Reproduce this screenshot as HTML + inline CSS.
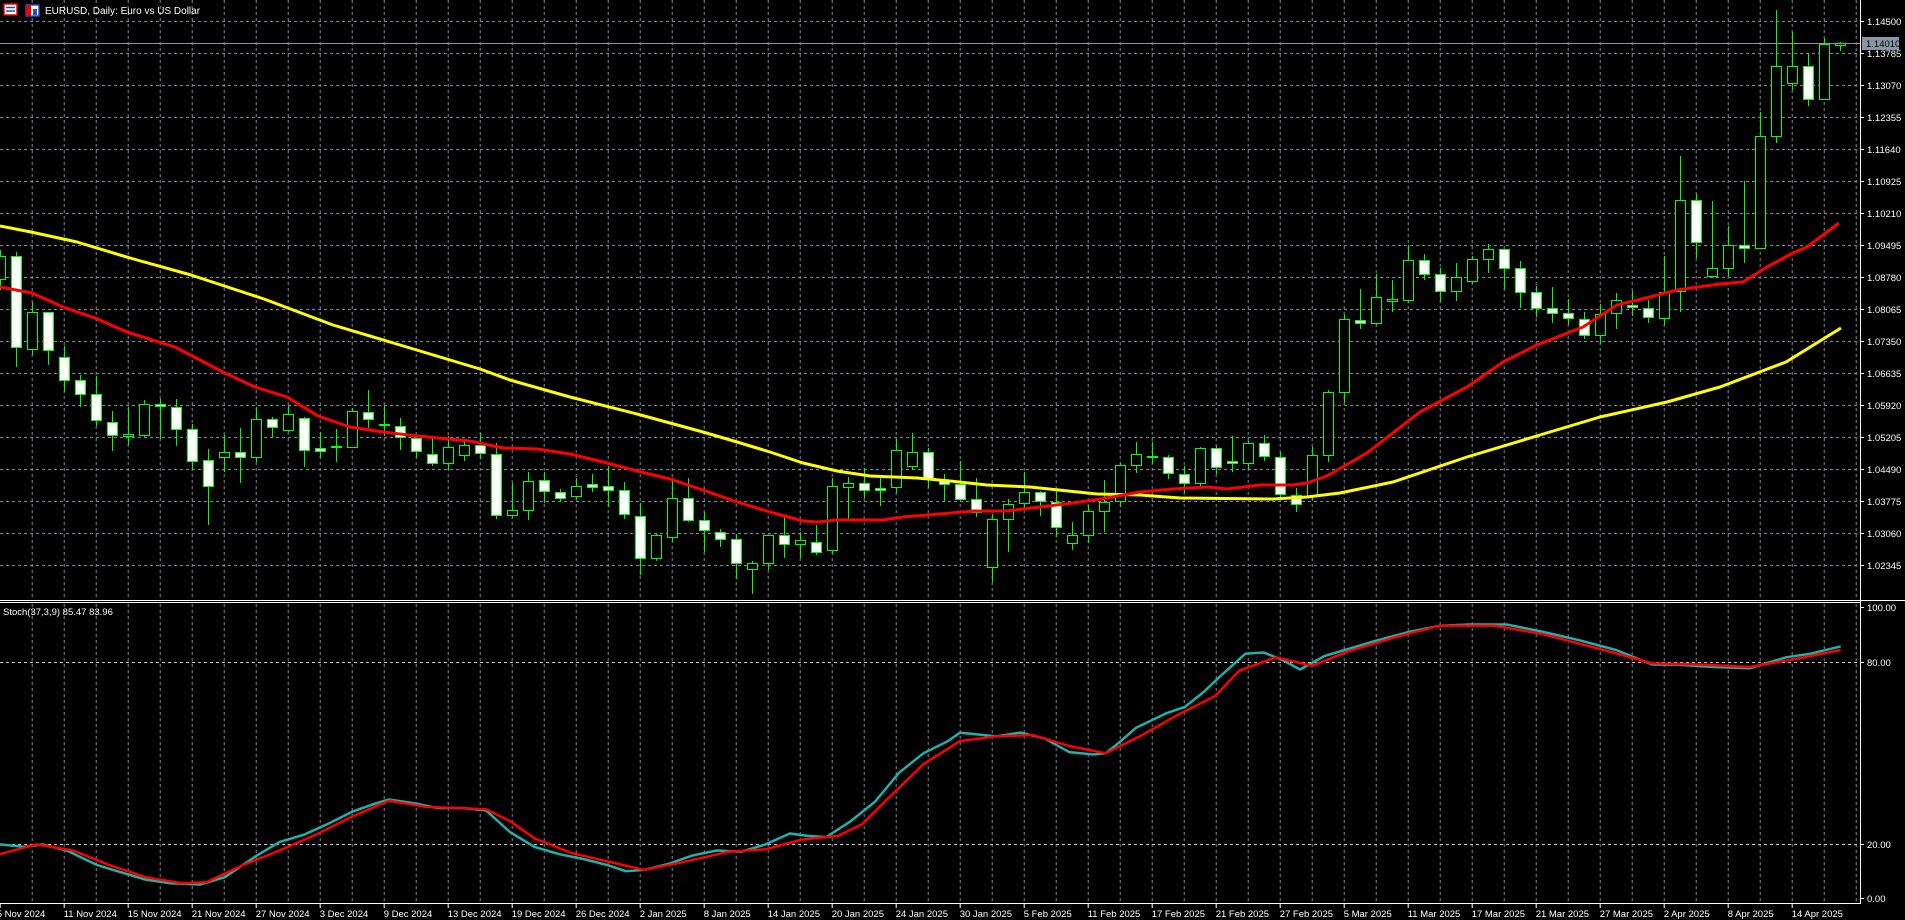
<!DOCTYPE html>
<html><head><meta charset="utf-8">
<style>
html,body{margin:0;padding:0;background:#000;overflow:hidden}
svg{display:block}
text{font-family:"Liberation Sans",sans-serif;font-size:9.5px;fill:#fff}
</style></head>
<body>
<svg id="s" width="1905" height="920" viewBox="0 0 1905 920" xmlns="http://www.w3.org/2000/svg">
<rect width="1905" height="920" fill="#000"/>
<g id="grid"></g>
<g id="ind"></g>
<g id="main"></g>
<g id="axis"></g>
<!-- title icons -->
<rect x="4" y="4" width="13" height="11" fill="#fff" stroke="#e00" stroke-width="1.5"/>
<line x1="6" y1="7.5" x2="15" y2="7.5" stroke="#2050c0" stroke-width="1.5"/>
<line x1="6" y1="11" x2="15" y2="11" stroke="#2050c0" stroke-width="1.5"/>
<rect x="26" y="5" width="13" height="11" fill="#fff" stroke="#2050c0" stroke-width="1.5"/>
<rect x="26" y="5" width="5" height="11" fill="#e00"/>
<rect x="33" y="9" width="4" height="6" fill="#2050c0"/>
<text x="45" y="14" style="font-size:10px">EURUSD, Daily:  Euro vs US Dollar</text>
<text x="3" y="615" style="font-size:9.5px">Stoch(37,3,9) 85.47 83.96</text>
</svg>
<script>
var NS="http://www.w3.org/2000/svg";
function el(p,t,a){var e=document.createElementNS(NS,t);for(var k in a)e.setAttribute(k,a[k]);p.appendChild(e);return e;}
var grid=document.getElementById('grid'),main=document.getElementById('main'),ind=document.getElementById('ind'),axis=document.getElementById('axis');
var GC="#7f8c9a";
// vertical grid
for(var k=1;k<=58;k++){var x=32*k-0.3+0.5;
 el(grid,'line',{x1:x,y1:0,x2:x,y2:599,stroke:GC,'stroke-dasharray':'3,3','stroke-width':1});
 el(grid,'line',{x1:x,y1:604,x2:x,y2:902,stroke:GC,'stroke-dasharray':'3,3','stroke-width':1});}
// horizontal grid main
var prices=["1.14500","1.13785","1.13070","1.12355","1.11640","1.10925","1.10210","1.09495","1.08780","1.08065","1.07350","1.06635","1.05920","1.05205","1.04490","1.03775","1.03060","1.02345"];
for(var k=0;k<18;k++){var y=Math.round(21.3+32*k)+0.5;
 el(grid,'line',{x1:0,y1:y,x2:1859,y2:y,stroke:GC,'stroke-dasharray':'3,3'});
 el(axis,'line',{x1:1860,y1:y,x2:1864,y2:y,stroke:'#fff'});
 var t=el(axis,'text',{x:1867,y:y+3.5});t.textContent=prices[k];}
// stoch levels
[[100,606.7,"100.00",false],[80,662,"80.00",true],[20,844.3,"20.00",true],[0,898.3,"0.00",false]].forEach(function(a){var y=Math.round(a[1])+0.5;
 if(a[3])el(grid,'line',{x1:0,y1:y,x2:1859,y2:y,stroke:'#c8c8c8','stroke-dasharray':'3,3'});
 el(axis,'line',{x1:1860,y1:y,x2:1864,y2:y,stroke:'#fff'});
 var t=el(axis,'text',{x:1867,y:y+3.5});t.textContent=a[2];});
// separator and axes
el(axis,'line',{x1:0,y1:600.5,x2:1905,y2:600.5,stroke:'#fff'});
el(axis,'line',{x1:0,y1:602.5,x2:1860,y2:602.5,stroke:'#fff'});
el(axis,'line',{x1:1860.5,y1:0,x2:1860.5,y2:904,stroke:'#fff'});
el(axis,'line',{x1:0,y1:903.5,x2:1861,y2:903.5,stroke:'#fff'});
// current price line
el(main,'line',{x1:0,y1:43.5,x2:1860,y2:43.5,stroke:'#8a95a3'});
el(axis,'rect',{x:1862,y:37,width:37,height:13,fill:'#8a96a4'});
var pt=el(axis,'text',{x:1866,y:47,style:'fill:#000'});pt.textContent="1.14010";
// dates
var dates=["5 Nov 2024","11 Nov 2024","15 Nov 2024","21 Nov 2024","27 Nov 2024","3 Dec 2024","9 Dec 2024","13 Dec 2024","19 Dec 2024","26 Dec 2024","2 Jan 2025","8 Jan 2025","14 Jan 2025","20 Jan 2025","24 Jan 2025","30 Jan 2025","5 Feb 2025","11 Feb 2025","17 Feb 2025","21 Feb 2025","27 Feb 2025","5 Mar 2025","11 Mar 2025","17 Mar 2025","21 Mar 2025","27 Mar 2025","2 Apr 2025","8 Apr 2025","14 Apr 2025"];
dates.forEach(function(d,j){var x=-0.3+64*j;
 el(axis,'line',{x1:x+0.5,y1:903,x2:x+0.5,y2:908,stroke:'#fff'});
 var t=el(axis,'text',{x:(j==0?x-3:x),y:917});t.textContent=d;});
// candles: [top,bot,H,L,bull]
var C=[[256,279,250,290,1],[256,347,252,367,0],[312,349,302,355,1],[312,350,312,365,0],[357,380,346,392,0],[380,394,375,407,0],[394,420,376,426,0],[422,435,411,451,0],[434,436,407,445,1],[404,435,400,437,1],
[404,406,399,439,0],[407,429,399,446,0],[429,461,424,469,0],[460,486,449,525,0],[452,457,435,472,1],[452,457,428,483,0],[419,457,407,462,1],[419,427,417,437,0],[414,430,405,432,1],[418,450,417,467,0],
[448,451,432,458,0],[446,447,429,462,1],[411,447,408,447,1],[412,419,390,428,0],[424,425,406,436,1],[426,437,418,450,0],[438,451,436,458,0],[454,463,436,466,0],[447,463,436,470,1],[445,455,441,461,1],
[445,453,433,459,0],[454,515,443,519,0],[510,515,483,518,1],[481,510,472,520,1],[480,491,472,503,0],[492,498,489,502,0],[486,496,478,499,1],[484,487,474,492,0],[486,490,466,507,0],[490,514,482,519,0],
[516,558,503,575,0],[535,558,534,561,1],[498,537,478,542,1],[498,520,478,522,0],[520,530,512,552,0],[532,539,529,547,0],[539,563,534,579,0],[563,569,561,594,1],[535,563,535,570,1],[535,544,517,558,0],
[540,544,532,558,1],[542,552,525,555,0],[486,550,478,554,1],[483,487,477,519,1],[483,490,468,498,0],[488,490,478,506,0],[450,487,439,493,1],[452,466,433,470,1],[452,479,448,488,0],[480,484,474,502,0],
[484,499,461,501,0],[499,512,478,517,0],[519,567,514,582,1],[504,519,499,552,1],[492,503,472,510,1],[492,501,491,516,0],[502,527,491,537,0],[535,543,522,550,1],[511,535,505,543,1],[502,511,480,532,1],
[465,501,463,507,1],[454,465,442,473,1],[456,457,442,464,1],[457,473,455,479,0],[474,483,466,493,0],[448,483,447,489,1],[448,467,446,474,0],[461,463,436,472,0],[443,463,441,469,1],[443,456,435,461,0],
[457,494,452,497,0],[495,504,488,512,0],[455,496,447,500,1],[392,455,390,462,1],[319,392,315,403,1],[320,323,289,329,0],[297,323,274,325,1],[299,301,280,312,1],[260,300,245,303,1],[260,274,254,280,0],
[274,291,268,302,0],[277,291,263,301,1],[259,281,256,284,1],[249,259,244,273,1],[249,268,249,289,0],[268,292,261,308,0],[292,308,286,317,0],[308,313,287,323,0],[313,318,299,325,0],[319,335,312,339,0],
[314,335,304,344,1],[300,313,293,329,1],[305,307,291,316,0],[308,317,300,323,0],[292,318,256,325,1],[200,291,156,312,1],[200,242,194,258,0],[268,276,201,278,1],[245,268,226,276,1],[245,248,181,263,0],
[136,248,112,248,1],[66,136,10,143,1],[66,83,32,90,1],[66,99,53,106,0],[44,99,38,99,1],[43,45,42,51,1]];
var G="#00ff00";
C.forEach(function(c,i){var x=Math.round(-0.3+16*i)+0.5;
 el(main,'line',{x1:x,y1:c[2],x2:x,y2:c[3],stroke:G});
 var h=Math.max(c[1]-c[0],1);
 el(main,'rect',{x:x-5,y:c[0]+0.5,width:10,height:h,fill:c[4]?'#000':'#fff',stroke:G,'stroke-width':1});});
function poly(p,pts,col,w,sc){var s=pts.map(function(q){return (q[0]*sc).toFixed(1)+','+(q[1]*sc).toFixed(1)}).join(' ');
 el(p,'polyline',{points:s,fill:'none',stroke:col,'stroke-width':w,'stroke-linejoin':'round'});}
var yel=[[0,226],[31,232],[77,242],[130,258],[191,275],[264,299],[333,325],[400,345],[480,369],[510,380],[570,397],[637,414],[703,432],[737,442],[770,452],[803,463],[837,471],[870,476],[917,478],[950,481],[987,485],[1030,487],[1097,494],[1140,495],[1180,498],[1273,499],[1307,497],[1340,493],[1393,482],[1467,457],[1550,432],[1600,417],[1667,402],[1720,387],[1786,362],[1841,328]];
var red=[[0,287],[32,293],[63,307],[95,318],[127,332],[175,347],[223,372],[255,387],[287,397],[318,416],[350,427],[383,432],[417,436],[470,441],[503,448],[537,449],[570,454],[603,462],[637,471],[670,479],[703,490],[737,502],[770,512],[803,521],[817,522],[837,520],[883,520],[903,517],[940,514],[973,511],[1007,511],[1040,507],[1073,503],[1107,498],[1140,492],[1173,489],[1207,487],[1227,489],[1260,485],[1293,485],[1307,483],[1327,476],[1367,453],[1420,412],[1467,387],[1503,362],[1537,345],[1583,327],[1617,305],[1650,297],[1677,290],[1720,284],[1743,282],[1767,267],[1793,253],[1807,247],[1839,223]];
poly(main,yel,'#ffff00',3,1);poly(main,red,'#ff0000',3,1);
var sm=[[0,695],[20,697],[35,695],[55,700],[80,712],[100,718],[120,724],[140,727],[165,728],[185,722],[210,705],[230,693],[250,687],[270,678],[290,668],[310,661],[320,658],[340,661],[360,665],[380,665],[400,667],[420,685],[440,697],[460,703],[480,707],[500,712],[515,717],[530,716],[550,711],[570,704],[590,700],[610,701],[630,695],[650,686],[665,688],[680,689],[700,676],[720,660],[740,636],[760,620],[780,610],[790,603],[800,604],[820,606],[840,603],[860,608],[880,619],[900,621],[910,620],[920,612],[935,599],[960,587],[975,582],[990,570],[1005,556],[1025,538],[1040,537],[1055,543],[1070,551],[1090,540],[1110,534],[1130,528],[1160,520],[1185,515],[1210,514],[1240,514],[1270,520],[1300,527],[1330,535],[1360,547],[1380,547],[1410,549],[1440,550],[1470,541],[1490,538],[1515,532]];
var ss=[[0,703],[30,695],[60,700],[90,712],[120,722],[150,727],[170,726],[200,712],[230,700],[260,687],[290,672],[320,659],[350,664],[400,666],[420,676],[440,690],[470,702],[500,709],[530,716],[560,710],[600,701],[630,699],[660,691],[690,688],[710,678],[730,658],[760,629],[790,610],[820,606],[850,605],[880,614],[910,620],[940,605],[970,588],[1000,573],[1020,552],[1050,541],[1080,548],[1110,536],[1150,524],[1185,515],[1230,515],[1270,522],[1320,535],[1360,546],[1400,547],[1440,549],[1480,542],[1515,535]];
poly(ind,sm,'#20b2aa',3/1.215,1.215);poly(ind,ss,'#ff0000',3/1.215,1.215);
</script>
</body></html>
